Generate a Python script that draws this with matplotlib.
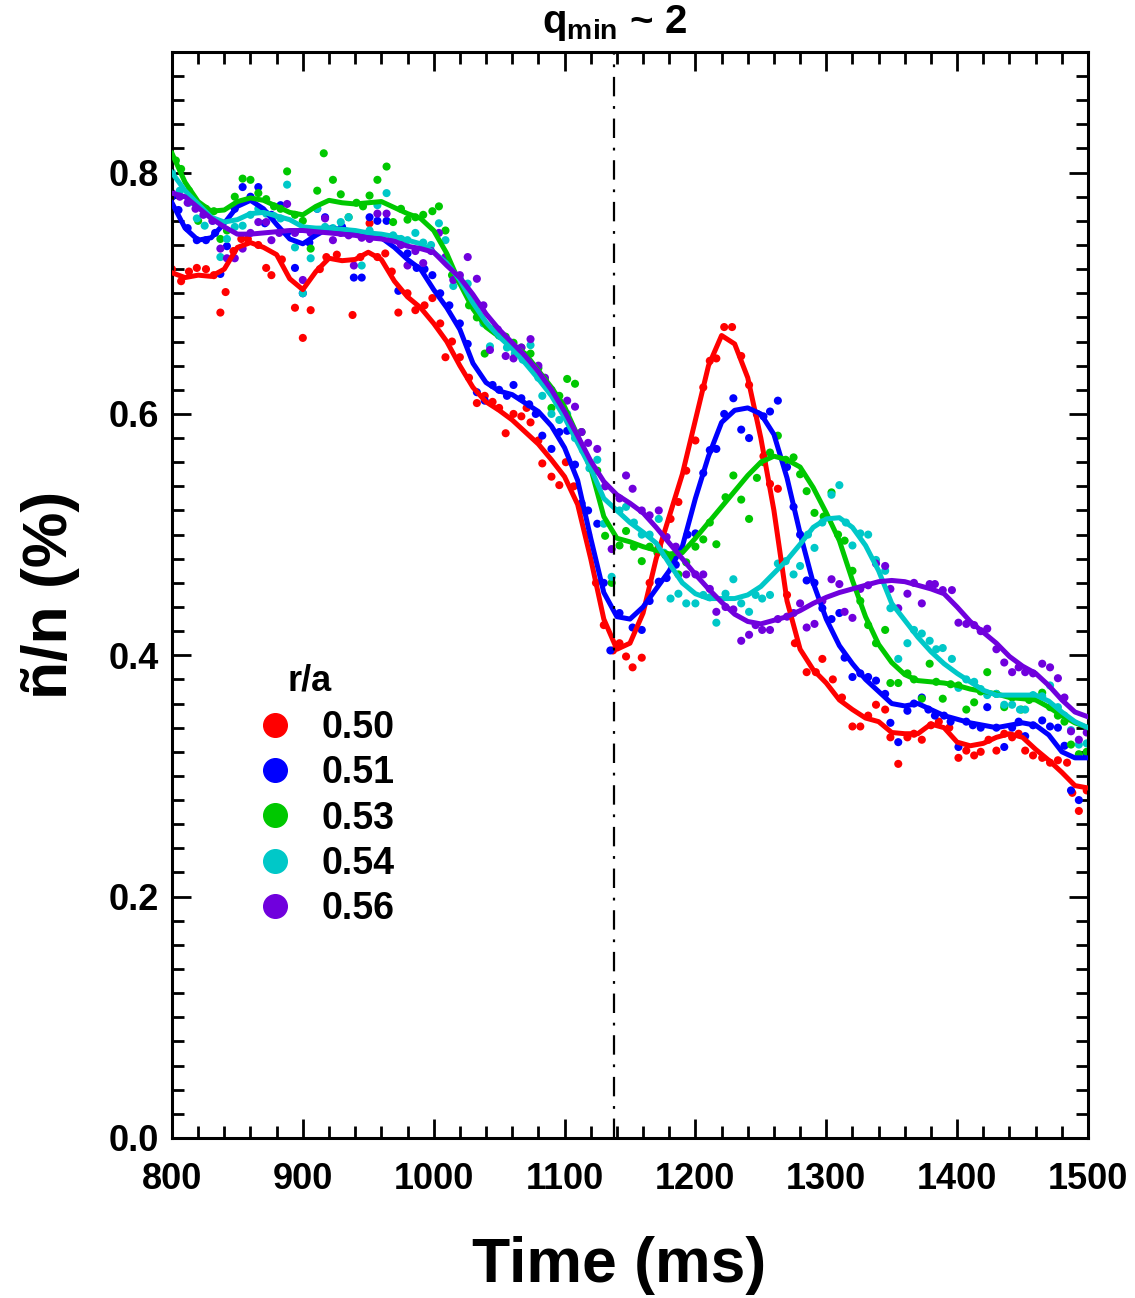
import numpy as np
import matplotlib
matplotlib.use("Agg")
import matplotlib.pyplot as plt
from matplotlib.lines import Line2D

plt.rcParams['font.family'] = ['Liberation Sans', 'DejaVu Sans']
plt.rcParams['font.weight'] = 'bold'
plt.rcParams['mathtext.fontset'] = 'custom'
plt.rcParams['mathtext.rm'] = 'Liberation Sans:bold'
plt.rcParams['mathtext.bf'] = 'Liberation Sans:bold'
plt.rcParams['lines.scale_dashes'] = False

# r/a labels and colours
radii = ["0.50", "0.51", "0.53", "0.54", "0.56"]
colors = ["#ff0000", "#0000ff", "#00c800", "#00c8c8", "#7000dd"]

# smoothed curves, one value every 10 ms from 800 to 1500
t_line = np.arange(800, 1501, 10)

red_line = [0.717, 0.713, 0.715, 0.714, 0.72, 0.738, 0.742, 0.738, 0.732, 0.712,
            0.703, 0.718, 0.729, 0.727, 0.728, 0.734, 0.728, 0.71, 0.697, 0.688,
            0.675, 0.66, 0.64, 0.622, 0.61, 0.603, 0.595, 0.585, 0.575, 0.562,
            0.548, 0.525, 0.48, 0.43, 0.405, 0.41, 0.435, 0.48, 0.515, 0.55,
            0.595, 0.64, 0.665, 0.658, 0.63, 0.58, 0.52, 0.445, 0.405, 0.388,
            0.377, 0.363, 0.355, 0.348, 0.345, 0.336, 0.335, 0.335, 0.343, 0.34,
            0.328, 0.325, 0.327, 0.332, 0.335, 0.332, 0.322, 0.313, 0.303, 0.292, 0.29]
blue_line = [0.775, 0.754, 0.744, 0.746, 0.758, 0.772, 0.777, 0.77, 0.757, 0.745,
             0.741, 0.748, 0.754, 0.753, 0.751, 0.749, 0.746, 0.738, 0.728, 0.72,
             0.703, 0.688, 0.67, 0.642, 0.626, 0.619, 0.616, 0.609, 0.602, 0.59,
             0.572, 0.545, 0.497, 0.452, 0.432, 0.43, 0.44, 0.455, 0.47, 0.49,
             0.53, 0.565, 0.593, 0.603, 0.605, 0.6, 0.583, 0.547, 0.501, 0.46,
             0.43, 0.408, 0.393, 0.38, 0.37, 0.36, 0.358, 0.36, 0.355, 0.35,
             0.347, 0.344, 0.342, 0.34, 0.342, 0.344, 0.342, 0.334, 0.32, 0.315, 0.315]
green_line = [0.816, 0.792, 0.776, 0.768, 0.769, 0.776, 0.779, 0.777, 0.772, 0.767,
              0.765, 0.772, 0.777, 0.775, 0.774, 0.775, 0.776, 0.771, 0.766, 0.762,
              0.752, 0.733, 0.708, 0.687, 0.672, 0.664, 0.657, 0.65, 0.636, 0.622,
              0.606, 0.582, 0.555, 0.515, 0.497, 0.494, 0.49, 0.487, 0.484, 0.485,
              0.497, 0.51, 0.523, 0.536, 0.549, 0.56, 0.565, 0.562, 0.556, 0.539,
              0.518, 0.495, 0.462, 0.432, 0.409, 0.394, 0.384, 0.379, 0.378, 0.377,
              0.375, 0.372, 0.37, 0.368, 0.365, 0.364, 0.363, 0.357, 0.35, 0.344, 0.34]
cyan_line = [0.8, 0.785, 0.774, 0.763, 0.759, 0.761, 0.766, 0.767, 0.764, 0.761,
             0.755, 0.754, 0.754, 0.753, 0.752, 0.75, 0.749, 0.747, 0.744, 0.741,
             0.734, 0.725, 0.711, 0.692, 0.676, 0.664, 0.654, 0.642, 0.629, 0.615,
             0.597, 0.576, 0.555, 0.53, 0.52, 0.51, 0.502, 0.493, 0.476, 0.46,
             0.451, 0.447, 0.447, 0.447, 0.45, 0.457, 0.468, 0.479, 0.492, 0.506,
             0.513, 0.514, 0.506, 0.491, 0.47, 0.443, 0.429, 0.415, 0.403, 0.393,
             0.385, 0.378, 0.371, 0.367, 0.367, 0.367, 0.367, 0.362, 0.353, 0.345, 0.34]
purple_line = [0.783, 0.78, 0.771, 0.762, 0.755, 0.749, 0.749, 0.75, 0.751, 0.752,
               0.752, 0.751, 0.75, 0.749, 0.748, 0.746, 0.745, 0.743, 0.739, 0.737,
               0.734, 0.723, 0.713, 0.699, 0.683, 0.67, 0.659, 0.648, 0.635, 0.62,
               0.602, 0.582, 0.561, 0.544, 0.533, 0.526, 0.518, 0.506, 0.493, 0.48,
               0.467, 0.455, 0.444, 0.434, 0.428, 0.426, 0.429, 0.432, 0.437, 0.443,
               0.448, 0.452, 0.455, 0.458, 0.461, 0.462, 0.461, 0.458, 0.455, 0.451,
               0.44, 0.428, 0.419, 0.41, 0.399, 0.391, 0.385, 0.375, 0.363, 0.353, 0.349]

# raw measurements (time ms, value %)
red_pts = [(800, 0.72), (807, 0.71), (813, 0.718), (819, 0.721), (826, 0.72), (832, 0.715),
           (837, 0.684), (841, 0.701), (847, 0.735), (853, 0.745), (858, 0.745), (866, 0.74),
           (872, 0.721), (876, 0.715), (884, 0.728), (894, 0.688), (900, 0.663), (906, 0.686),
           (913, 0.72), (918, 0.73), (926, 0.732), (938, 0.682), (944, 0.73), (951, 0.758),
           (957, 0.73), (963, 0.733), (968, 0.718), (973, 0.684), (980, 0.7), (986, 0.686),
           (993, 0.69), (999, 0.696), (1005, 0.675), (1009, 0.647), (1014, 0.66), (1020, 0.647),
           (1027, 0.63), (1033, 0.609), (1039, 0.615), (1045, 0.61), (1050, 0.605), (1055, 0.584),
           (1061, 0.6), (1067, 0.598), (1071, 0.605), (1074, 0.593), (1080, 0.578), (1083, 0.559),
           (1090, 0.548), (1096, 0.541), (1101, 0.56), (1107, 0.54), (1113, 0.52), (1118, 0.5),
           (1124, 0.46), (1130, 0.425), (1137, 0.404), (1142, 0.41), (1147, 0.399), (1152, 0.39),
           (1159, 0.398), (1165, 0.46), (1172, 0.49), (1181, 0.513), (1187, 0.527), (1193, 0.553),
           (1200, 0.578), (1206, 0.622), (1211, 0.644), (1216, 0.646), (1222, 0.672), (1228, 0.672),
           (1235, 0.648), (1241, 0.624), (1247, 0.6), (1252, 0.565), (1257, 0.542), (1263, 0.538),
           (1270, 0.45), (1276, 0.41), (1285, 0.386), (1292, 0.386), (1297, 0.397), (1305, 0.38),
           (1312, 0.365), (1320, 0.341), (1326, 0.341), (1332, 0.35), (1338, 0.359), (1345, 0.355),
           (1349, 0.332), (1355, 0.31), (1362, 0.332), (1367, 0.335), (1373, 0.33), (1380, 0.342),
           (1386, 0.345), (1394, 0.34), (1401, 0.315), (1407, 0.321), (1413, 0.317), (1418, 0.32),
           (1424, 0.33), (1430, 0.321), (1436, 0.335), (1442, 0.332), (1447, 0.335), (1452, 0.321),
           (1458, 0.317), (1465, 0.315), (1471, 0.311), (1477, 0.313), (1484, 0.311), (1488, 0.286),
           (1493, 0.271), (1499, 0.288)]
blue_pts = [(800, 0.78), (805, 0.769), (812, 0.754), (819, 0.744), (826, 0.744), (833, 0.75),
            (837, 0.716), (842, 0.739), (848, 0.77), (854, 0.788), (860, 0.78), (866, 0.788),
            (871, 0.758), (876, 0.765), (883, 0.773), (888, 0.75), (894, 0.721), (900, 0.70),
            (905, 0.742), (911, 0.77), (917, 0.763), (924, 0.752), (930, 0.755), (939, 0.713),
            (945, 0.713), (951, 0.763), (957, 0.76), (964, 0.76), (968, 0.745), (973, 0.702),
            (980, 0.733), (987, 0.721), (993, 0.72), (999, 0.715), (1005, 0.7), (1012, 0.69),
            (1020, 0.675), (1026, 0.658), (1033, 0.618), (1039, 0.611), (1045, 0.624), (1050, 0.62),
            (1056, 0.615), (1061, 0.624), (1067, 0.613), (1073, 0.608), (1078, 0.6), (1083, 0.582),
            (1090, 0.571), (1096, 0.585), (1102, 0.586), (1108, 0.558), (1113, 0.526), (1118, 0.52),
            (1125, 0.509), (1130, 0.46), (1135, 0.404), (1142, 0.435), (1152, 0.423), (1159, 0.421),
            (1165, 0.445), (1172, 0.461), (1178, 0.464), (1185, 0.475), (1194, 0.5), (1200, 0.501),
            (1206, 0.551), (1211, 0.57), (1216, 0.571), (1222, 0.6), (1229, 0.613), (1235, 0.587),
            (1241, 0.58), (1247, 0.6), (1252, 0.598), (1257, 0.602), (1263, 0.611), (1270, 0.556),
            (1275, 0.523), (1280, 0.5), (1285, 0.462), (1291, 0.46), (1297, 0.439), (1304, 0.43),
            (1310, 0.435), (1314, 0.398), (1320, 0.382), (1326, 0.385), (1332, 0.382), (1338, 0.379),
            (1345, 0.368), (1349, 0.344), (1355, 0.328), (1362, 0.354), (1367, 0.36), (1373, 0.365),
            (1378, 0.355), (1383, 0.35), (1390, 0.35), (1395, 0.345), (1401, 0.324), (1407, 0.345),
            (1412, 0.342), (1418, 0.34), (1423, 0.357), (1430, 0.34), (1436, 0.324), (1442, 0.34),
            (1447, 0.345), (1452, 0.333), (1458, 0.342), (1465, 0.346), (1471, 0.341), (1477, 0.34),
            (1482, 0.325), (1487, 0.288), (1493, 0.28), (1499, 0.318)]
green_pts = [(800, 0.81), (803, 0.81), (807, 0.803), (813, 0.785), (820, 0.76), (826, 0.77),
             (832, 0.768), (837, 0.745), (842, 0.752), (848, 0.78), (854, 0.795), (860, 0.794),
             (866, 0.783), (872, 0.778), (878, 0.772), (883, 0.77), (888, 0.801), (894, 0.765),
             (900, 0.76), (906, 0.737), (911, 0.785), (916, 0.816), (923, 0.794), (929, 0.782),
             (935, 0.763), (941, 0.775), (946, 0.772), (951, 0.781), (957, 0.794), (964, 0.805),
             (969, 0.759), (975, 0.77), (980, 0.761), (986, 0.763), (992, 0.765), (999, 0.768),
             (1004, 0.772), (1009, 0.752), (1014, 0.715), (1020, 0.71), (1027, 0.69), (1033, 0.68),
             (1039, 0.65), (1045, 0.67), (1050, 0.665), (1055, 0.664), (1061, 0.659), (1067, 0.655),
             (1074, 0.65), (1080, 0.638), (1085, 0.628), (1090, 0.605), (1096, 0.615), (1102, 0.629),
             (1108, 0.625), (1113, 0.585), (1119, 0.56), (1125, 0.553), (1131, 0.499), (1136, 0.46),
             (1142, 0.491), (1147, 0.503), (1153, 0.49), (1159, 0.478), (1165, 0.49), (1171, 0.485),
             (1177, 0.483), (1182, 0.48), (1187, 0.467), (1193, 0.477), (1200, 0.49), (1206, 0.496),
             (1211, 0.51), (1216, 0.492), (1223, 0.531), (1229, 0.549), (1235, 0.529), (1241, 0.513),
             (1247, 0.547), (1252, 0.56), (1257, 0.568), (1263, 0.582), (1269, 0.562), (1275, 0.564),
             (1280, 0.55), (1285, 0.536), (1291, 0.518), (1298, 0.515), (1304, 0.535), (1309, 0.5),
             (1314, 0.495), (1320, 0.47), (1326, 0.445), (1332, 0.425), (1338, 0.41), (1345, 0.421),
             (1349, 0.377), (1355, 0.377), (1362, 0.385), (1367, 0.38), (1373, 0.364), (1379, 0.393),
             (1384, 0.378), (1389, 0.364), (1395, 0.376), (1401, 0.375), (1407, 0.355), (1413, 0.361),
             (1418, 0.37), (1423, 0.386), (1430, 0.368), (1436, 0.357), (1442, 0.365), (1449, 0.355),
             (1455, 0.363), (1465, 0.369), (1471, 0.357), (1477, 0.35), (1482, 0.345), (1487, 0.326),
             (1493, 0.318), (1499, 0.32)]
cyan_pts = [(800, 0.8), (806, 0.785), (813, 0.775), (819, 0.762), (825, 0.756), (831, 0.76),
            (837, 0.73), (842, 0.745), (848, 0.755), (854, 0.756), (860, 0.765), (866, 0.77),
            (872, 0.766), (878, 0.764), (883, 0.762), (888, 0.79), (894, 0.738), (900, 0.70),
            (906, 0.729), (911, 0.77), (917, 0.755), (923, 0.754), (929, 0.759), (935, 0.763),
            (941, 0.75), (945, 0.723), (951, 0.752), (957, 0.773), (964, 0.783), (969, 0.748),
            (975, 0.745), (980, 0.744), (986, 0.75), (992, 0.742), (998, 0.74), (1004, 0.758),
            (1009, 0.744), (1015, 0.706), (1020, 0.712), (1026, 0.708), (1032, 0.69), (1038, 0.675),
            (1043, 0.656), (1050, 0.665), (1056, 0.655), (1062, 0.65), (1068, 0.645), (1074, 0.657),
            (1080, 0.63), (1083, 0.615), (1090, 0.6), (1096, 0.595), (1102, 0.6), (1108, 0.58),
            (1114, 0.57), (1119, 0.555), (1125, 0.562), (1130, 0.509), (1136, 0.465), (1142, 0.52),
            (1147, 0.523), (1153, 0.51), (1159, 0.5), (1165, 0.5), (1172, 0.513), (1176, 0.485),
            (1181, 0.447), (1187, 0.451), (1193, 0.443), (1200, 0.443), (1206, 0.45), (1211, 0.448),
            (1216, 0.427), (1223, 0.451), (1229, 0.463), (1235, 0.443), (1241, 0.436), (1246, 0.45),
            (1251, 0.447), (1257, 0.45), (1263, 0.476), (1269, 0.478), (1275, 0.467), (1280, 0.474),
            (1286, 0.5), (1291, 0.489), (1297, 0.51), (1304, 0.533), (1310, 0.541), (1315, 0.51),
            (1320, 0.491), (1326, 0.501), (1332, 0.5), (1338, 0.479), (1345, 0.47), (1349, 0.439),
            (1355, 0.397), (1362, 0.41), (1367, 0.421), (1373, 0.418), (1379, 0.412), (1384, 0.405),
            (1389, 0.406), (1396, 0.397), (1401, 0.373), (1407, 0.38), (1413, 0.378), (1418, 0.372),
            (1423, 0.367), (1430, 0.368), (1436, 0.359), (1442, 0.359), (1448, 0.355), (1452, 0.355),
            (1458, 0.367), (1465, 0.366), (1471, 0.375), (1477, 0.357), (1482, 0.35), (1487, 0.338),
            (1493, 0.326), (1499, 0.327)]
purple_pts = [(800, 0.783), (806, 0.78), (812, 0.775), (818, 0.77), (824, 0.765), (831, 0.76),
              (837, 0.737), (842, 0.729), (848, 0.729), (854, 0.737), (860, 0.75), (866, 0.759),
              (872, 0.759), (876, 0.744), (882, 0.75), (888, 0.774), (894, 0.75), (900, 0.711),
              (906, 0.75), (911, 0.752), (917, 0.762), (923, 0.744), (929, 0.75), (935, 0.748),
              (939, 0.723), (945, 0.746), (951, 0.745), (957, 0.766), (964, 0.766), (969, 0.745),
              (975, 0.74), (980, 0.723), (986, 0.735), (992, 0.725), (998, 0.735), (1004, 0.75),
              (1009, 0.73), (1015, 0.711), (1020, 0.715), (1026, 0.73), (1033, 0.712), (1038, 0.69),
              (1043, 0.653), (1049, 0.67), (1055, 0.648), (1061, 0.646), (1067, 0.655), (1074, 0.662),
              (1080, 0.64), (1085, 0.63), (1090, 0.62), (1096, 0.61), (1102, 0.611), (1108, 0.606),
              (1113, 0.585), (1118, 0.576), (1125, 0.571), (1131, 0.54), (1136, 0.488), (1142, 0.53),
              (1147, 0.549), (1152, 0.538), (1159, 0.52), (1165, 0.516), (1172, 0.52), (1178, 0.498),
              (1185, 0.49), (1193, 0.467), (1200, 0.467), (1206, 0.467), (1211, 0.455), (1216, 0.436),
              (1223, 0.44), (1229, 0.438), (1235, 0.412), (1241, 0.417), (1246, 0.425), (1251, 0.421),
              (1257, 0.421), (1263, 0.43), (1270, 0.432), (1275, 0.435), (1280, 0.443), (1285, 0.423),
              (1291, 0.426), (1297, 0.445), (1304, 0.463), (1310, 0.459), (1314, 0.436), (1320, 0.431),
              (1326, 0.455), (1332, 0.458), (1338, 0.476), (1345, 0.474), (1349, 0.455), (1355, 0.439),
              (1362, 0.451), (1367, 0.46), (1373, 0.443), (1379, 0.459), (1383, 0.459), (1389, 0.454),
              (1396, 0.454), (1401, 0.427), (1407, 0.426), (1413, 0.425), (1418, 0.42), (1423, 0.422),
              (1430, 0.405), (1436, 0.394), (1442, 0.386), (1447, 0.39), (1452, 0.386), (1458, 0.385),
              (1465, 0.393), (1471, 0.39), (1477, 0.381), (1482, 0.365), (1487, 0.337), (1493, 0.33),
              (1499, 0.336)]

t_qmin2 = 1138  # time of qmin ~ 2

lines = [red_line, blue_line, green_line, cyan_line, purple_line]
points = [red_pts, blue_pts, green_pts, cyan_pts, purple_pts]

fig = plt.figure(figsize=(11.35, 12.98), dpi=100)
ax = fig.add_axes([0.1515, 0.1233, 0.8071, 0.8367])

for vals, pts, c in zip(lines, points, colors):
    pt = np.array(pts)
    ax.scatter(pt[:, 0], pt[:, 1], s=34, color=c, edgecolors='none', zorder=2)
    ax.plot(t_line, vals, color=c, lw=3.6, zorder=3)

ax.axvline(t_qmin2, color='black', lw=1.6, ls=(0, (14, 7, 2, 7)), zorder=4)

ax.set_xlim(800, 1500)
ax.set_ylim(0, 0.9)
ax.set_xticks(np.arange(800, 1501, 100))
ax.set_xticks(np.arange(800, 1501, 20), minor=True)
ax.set_yticks([0.0, 0.2, 0.4, 0.6, 0.8])
ax.set_yticks(np.arange(0, 0.901, 0.02), minor=True)
ax.set_yticklabels(["0.0", "0.2", "0.4", "0.6", "0.8"])
ax.tick_params(which='both', direction='in', top=True, right=True, width=2.0,
               labelsize=26, colors='black')
ax.tick_params(which='major', length=14)
ax.tick_params(which='minor', length=8.5)
ax.tick_params(axis='x', pad=17)
ax.tick_params(axis='y', pad=9)
for lab in ax.get_xticklabels() + ax.get_yticklabels():
    lab.set_fontweight('bold')
for sp in ax.spines.values():
    sp.set_linewidth(2.2)

ax.set_xlabel("Time (ms)", fontsize=45, fontweight='bold')
ax.xaxis.set_label_coords(0.488, -0.09)
ax.set_ylabel("ñ/n (%)", fontsize=45, fontweight='bold')
ax.yaxis.set_label_coords(-0.1, 0.5)

ax.text(t_qmin2, 1.008, r"q$_{\mathbf{min}}$ ~ 2", transform=ax.get_xaxis_transform(),
        ha='center', va='bottom', fontsize=29, fontweight='bold')

# legend: title drawn as its own text, entries below
ax.text(0.126, 0.421, "r/a", transform=ax.transAxes, ha='left', va='center',
        fontsize=26, fontweight='bold')
handles = [Line2D([], [], ls='', marker='o', markersize=17, color=c) for c in colors]
leg = ax.legend(handles, radii, loc='upper left', bbox_to_anchor=(0.063, 0.418),
                frameon=False, fontsize=27, handlelength=1.0,
                handletextpad=0.76, labelspacing=0.245, borderpad=0.2)
for txt in leg.get_texts():
    txt.set_fontweight('bold')

fig.savefig("out.png", dpi=100)
